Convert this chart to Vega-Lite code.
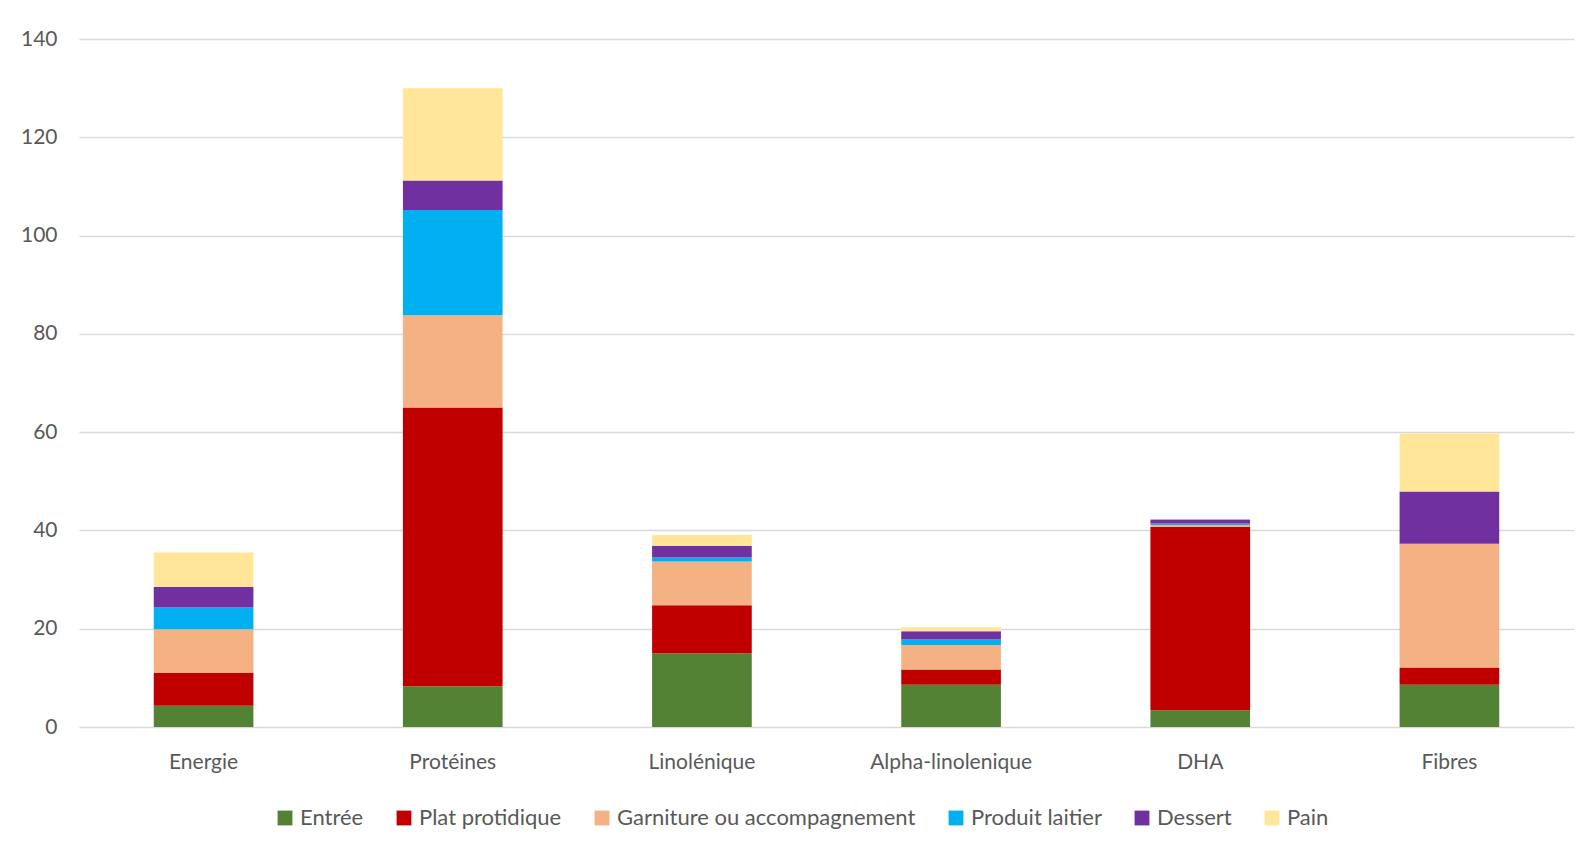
{
  "$schema": "https://vega.github.io/schema/vega-lite/v6.json",
  "width": 1495,
  "height": 688,
  "autosize": {"type": "none"},
  "padding": {"left": 79, "top": 39, "right": 20, "bottom": 130},
  "background": "white",
  "config": {
    "font": "Lato",
    "view": {"stroke": null},
    "axis": {"labelFont": "Lato", "labelColor": "#595959", "labelFontSize": 21, "domain": false, "ticks": false}
  },
  "data": {
    "values": [
      {"nutriment": "Energie", "plat": "Entrée", "valeur": 4.3},
      {"nutriment": "Energie", "plat": "Plat protidique", "valeur": 6.7},
      {"nutriment": "Energie", "plat": "Garniture ou accompagnement", "valeur": 8.9},
      {"nutriment": "Energie", "plat": "Produit laitier", "valeur": 4.4},
      {"nutriment": "Energie", "plat": "Dessert", "valeur": 4.2},
      {"nutriment": "Energie", "plat": "Pain", "valeur": 7.0},
      {"nutriment": "Protéines", "plat": "Entrée", "valeur": 8.3},
      {"nutriment": "Protéines", "plat": "Plat protidique", "valeur": 56.7},
      {"nutriment": "Protéines", "plat": "Garniture ou accompagnement", "valeur": 18.8},
      {"nutriment": "Protéines", "plat": "Produit laitier", "valeur": 21.4},
      {"nutriment": "Protéines", "plat": "Dessert", "valeur": 6.0},
      {"nutriment": "Protéines", "plat": "Pain", "valeur": 18.8},
      {"nutriment": "Linolénique", "plat": "Entrée", "valeur": 15.0},
      {"nutriment": "Linolénique", "plat": "Plat protidique", "valeur": 9.8},
      {"nutriment": "Linolénique", "plat": "Garniture ou accompagnement", "valeur": 8.9},
      {"nutriment": "Linolénique", "plat": "Produit laitier", "valeur": 0.8},
      {"nutriment": "Linolénique", "plat": "Dessert", "valeur": 2.4},
      {"nutriment": "Linolénique", "plat": "Pain", "valeur": 2.15},
      {"nutriment": "Alpha-linolenique", "plat": "Entrée", "valeur": 8.6},
      {"nutriment": "Alpha-linolenique", "plat": "Plat protidique", "valeur": 3.1},
      {"nutriment": "Alpha-linolenique", "plat": "Garniture ou accompagnement", "valeur": 5.0},
      {"nutriment": "Alpha-linolenique", "plat": "Produit laitier", "valeur": 1.1},
      {"nutriment": "Alpha-linolenique", "plat": "Dessert", "valeur": 1.7},
      {"nutriment": "Alpha-linolenique", "plat": "Pain", "valeur": 0.8},
      {"nutriment": "DHA", "plat": "Entrée", "valeur": 3.4},
      {"nutriment": "DHA", "plat": "Plat protidique", "valeur": 37.3},
      {"nutriment": "DHA", "plat": "Garniture ou accompagnement", "valeur": 0.4},
      {"nutriment": "DHA", "plat": "Produit laitier", "valeur": 0.3},
      {"nutriment": "DHA", "plat": "Dessert", "valeur": 0.8},
      {"nutriment": "DHA", "plat": "Pain", "valeur": 0.1},
      {"nutriment": "Fibres", "plat": "Entrée", "valeur": 8.6},
      {"nutriment": "Fibres", "plat": "Plat protidique", "valeur": 3.5},
      {"nutriment": "Fibres", "plat": "Garniture ou accompagnement", "valeur": 25.2},
      {"nutriment": "Fibres", "plat": "Produit laitier", "valeur": 0},
      {"nutriment": "Fibres", "plat": "Dessert", "valeur": 10.6},
      {"nutriment": "Fibres", "plat": "Pain", "valeur": 11.8}
    ]
  },
  "transform": [
    {"calculate": "indexof(['Entrée', 'Plat protidique', 'Garniture ou accompagnement', 'Produit laitier', 'Dessert', 'Pain'], datum.plat)", "as": "rang"}
  ],
  "mark": {"type": "bar"},
  "encoding": {
    "x": {
      "field": "nutriment",
      "type": "nominal",
      "sort": null,
      "scale": {"paddingInner": 0.6, "paddingOuter": 0.3},
      "axis": {"title": null, "labelAngle": 0, "labelPadding": 24, "grid": false}
    },
    "y": {
      "field": "valeur",
      "type": "quantitative",
      "stack": "zero",
      "scale": {"domain": [0, 140], "nice": false},
      "axis": {"title": null, "values": [0, 20, 40, 60, 80, 100, 120, 140], "grid": true, "gridColor": "#d9d9d9", "gridWidth": 1.5, "labelPadding": 22}
    },
    "color": {
      "field": "plat",
      "type": "nominal",
      "sort": ["Entrée", "Plat protidique", "Garniture ou accompagnement", "Produit laitier", "Dessert", "Pain"],
      "scale": {
        "domain": ["Entrée", "Plat protidique", "Garniture ou accompagnement", "Produit laitier", "Dessert", "Pain"],
        "range": ["#548235", "#C00000", "#F4B183", "#00B0F0", "#7030A0", "#FFE699"]
      },
      "legend": {
        "title": null,
        "orient": "none",
        "direction": "horizontal",
        "legendX": 195,
        "legendY": 768,
        "symbolType": "square",
        "symbolSize": 220,
        "symbolStrokeWidth": 0,
        "labelFontSize": 22,
        "labelFont": "Lato",
        "labelColor": "#595959",
        "labelOffset": 4,
        "labelLimit": 500,
        "columnPadding": 29
      }
    },
    "order": {"field": "rang", "type": "quantitative", "sort": "ascending"}
  }
}
